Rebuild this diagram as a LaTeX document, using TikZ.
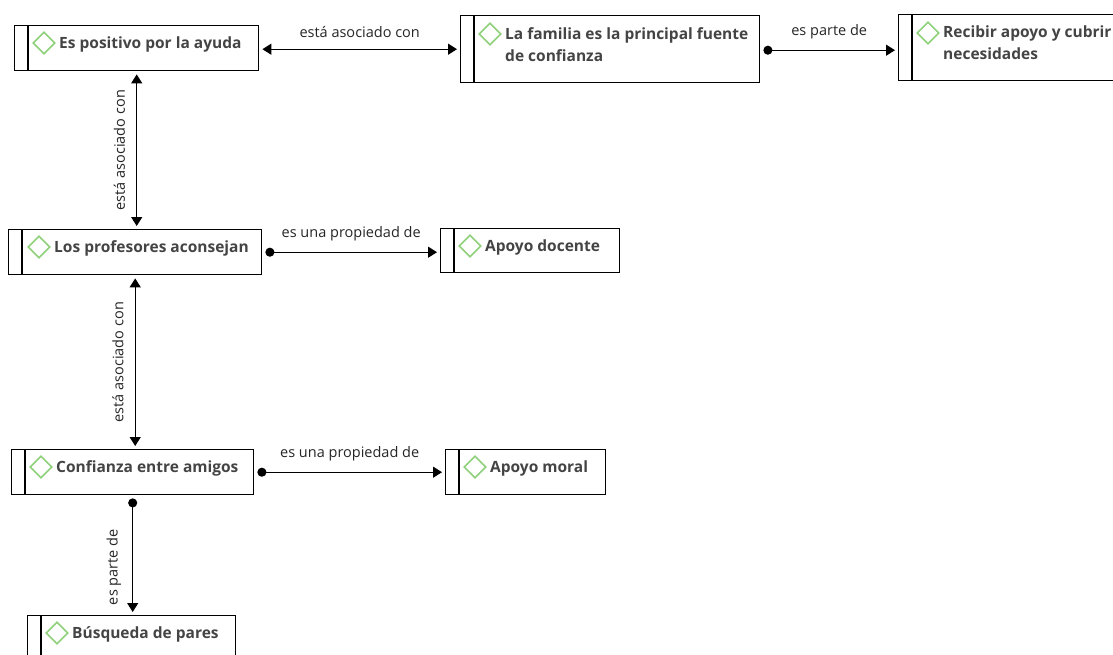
\documentclass[tikz,border=0pt]{standalone}
\usepackage{fontspec}
\setmainfont{Open Sans}
\usetikzlibrary{arrows.meta,shapes.geometric}
\definecolor{txtgray}{HTML}{444444}
\definecolor{diagreen}{HTML}{8ED17A}
\tikzset{
  box/.style={draw=black, line width=1.4pt, rectangle, inner sep=0pt, anchor=north west},
  bar/.style={draw=black, line width=1.4pt},
  dia/.style={draw=diagreen, line width=1.6pt, diamond, shape aspect=1, inner sep=0pt, minimum size=22pt},
  txt/.style={text=txtgray, font=\fontsize{15.5}{22}\selectfont\bfseries, inner sep=0pt, anchor=west, align=left},
  lbl/.style={text=black!85, font=\fontsize{14.5}{16}\selectfont, inner sep=0pt},
  conn/.style={draw=black, line width=1.3pt},
  tip/.style={},
  twoway/.style={conn, {Triangle[length=9pt,width=11pt]}-{Triangle[length=9pt,width=11pt]}, shorten <=3pt, shorten >=3pt},
  dotarrow/.style={conn, {Circle[length=9pt]}-{Triangle[length=9pt,width=11pt]}, shorten <=3pt, shorten >=3pt},
}
\begin{document}
\begin{tikzpicture}[x=1pt, y=-1pt]
\clip (0,0) rectangle (1113,655);
\fill[white] (0,0) rectangle (1113,655);

% boxes
\node[box, minimum width=244pt, minimum height=45pt] (b1) at (14,25) {};
\node[box, minimum width=299pt, minimum height=67pt] (b2) at (460,15) {};
\node[box, minimum width=240pt, minimum height=66pt] (b3) at (898,14) {};
\node[box, minimum width=253pt, minimum height=45pt] (b4) at (8,229) {};
\node[box, minimum width=179pt, minimum height=44pt] (b5) at (440,228) {};
\node[box, minimum width=242pt, minimum height=45pt] (b6) at (11,449) {};
\node[box, minimum width=160pt, minimum height=45pt] (b7) at (445,449) {};
\node[box, minimum width=208pt, minimum height=45pt] (b8) at (27,615) {};

% inner bars
\foreach \b in {b1,b2,b3,b4,b5,b6,b7,b8}{
  \draw[bar] ([xshift=14pt]\b.north west) -- ([xshift=14pt]\b.south west);
}

% diamonds and texts
\node[dia] (d1) at ([shift={(30,18)}]b1.north west) {};
\node[txt] (t1) at ([shift={(45,19)}]b1.north west) {Es positivo por la ayuda};
\node[dia] (d2) at ([shift={(30,19)}]b2.north west) {};
\node[txt, anchor=north west] (t2) at ([shift={(45,12)}]b2.north west) {La familia es la principal fuente\\de confianza};
\node[dia] (d3) at ([shift={(30,19)}]b3.north west) {};
\node[txt, anchor=north west] (t3) at ([shift={(45,12)}]b3.north west) {Recibir apoyo y cubrir\\necesidades};
\node[dia] (d4) at ([shift={(31,18)}]b4.north west) {};
\node[txt] (t4) at ([shift={(46,19)}]b4.north west) {Los profesores aconsejan};
\node[dia] (d5) at ([shift={(30,18)}]b5.north west) {};
\node[txt] (t5) at ([shift={(45,19)}]b5.north west) {Apoyo docente};
\node[dia] (d6) at ([shift={(30,18)}]b6.north west) {};
\node[txt] (t6) at ([shift={(45,19)}]b6.north west) {Confianza entre amigos};
\node[dia] (d7) at ([shift={(30,18)}]b7.north west) {};
\node[txt] (t7) at ([shift={(45,19)}]b7.north west) {Apoyo moral};
\node[dia] (d8) at ([shift={(30,18)}]b8.north west) {};
\node[txt] (t8) at ([shift={(45,19)}]b8.north west) {Búsqueda de pares};

% connectors
\coordinate (c1s) at ([yshift=-1pt]b1.east);
\draw[twoway] (c1s) -- (b2.west |- c1s)
  node[lbl, midway, above=11pt] (l1) {está asociado con};
\coordinate (c2s) at ([yshift=-1pt]b2.east);
\draw[dotarrow] (c2s) -- (b3.west |- c2s)
  node[lbl, midway, above=11pt] (l2) {es parte de};
\draw[twoway] (b1.south) -- (b1.south |- b4.north)
  node[lbl, midway, rotate=90, anchor=south, yshift=11pt] (l3) {está asociado con};
\draw[dotarrow] (b4.east) -- (b5.west |- b4.east)
  node[lbl, midway, above=11pt] (l4) {es una propiedad de};
\draw[twoway] (b4.south) -- (b4.south |- b6.north)
  node[lbl, midway, rotate=90, anchor=south, yshift=11pt] (l5) {está asociado con};
\draw[dotarrow] (b6.east) -- (b7.west |- b6.east)
  node[lbl, midway, above=11pt] (l6) {es una propiedad de};
\draw[dotarrow] (b6.south) -- (b6.south |- b8.north)
  node[lbl, pos=0.6, rotate=90, anchor=south, yshift=11pt] (l7) {es parte de};
\end{tikzpicture}
\end{document}
